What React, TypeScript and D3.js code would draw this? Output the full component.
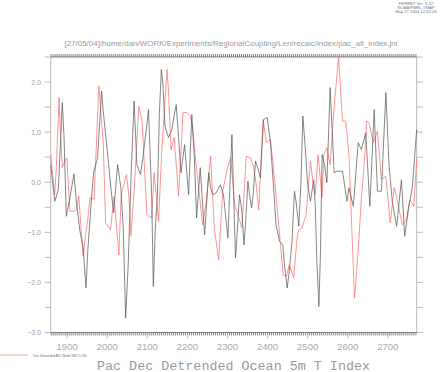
import * as d3 from 'd3';
import React, { useEffect, useRef } from 'react';

// Pacific index (black line)
const pacYears = [
  1859, 1869, 1878, 1888, 1892, 1898, 1907, 1917, 1923, 1932, 1940, 1947, 1952,
  1961, 1966, 1976, 1986, 1990, 2002, 2009, 2016, 2026, 2034, 2040, 2046, 2052,
  2060, 2067, 2074, 2083, 2089, 2095, 2103, 2111, 2115, 2120, 2125, 2130, 2135,
  2139, 2144, 2153, 2161, 2172, 2178, 2184, 2193, 2203, 2211, 2217, 2223, 2232,
  2243, 2253, 2258, 2263, 2272, 2282, 2290, 2301, 2311, 2320, 2324, 2330, 2336,
  2341, 2345, 2351, 2355, 2360, 2364, 2370, 2378, 2382, 2390, 2399, 2407, 2415,
  2421, 2430, 2438, 2443, 2449, 2454, 2461, 2467, 2471, 2478, 2483, 2488, 2494,
  2500, 2507, 2515, 2519, 2523, 2528, 2532, 2536, 2542, 2548, 2556, 2562, 2566,
  2574, 2587, 2598, 2603, 2614, 2626, 2634, 2645, 2655, 2666, 2674, 2684, 2695,
  2703, 2711, 2722, 2734, 2742, 2753, 2761, 2772,
];
const pacValues = [
  0.35, -0.38, -0.15, 1.59, 0.95, -0.68, -0.31, 0.17, -0.38, -0.98, -1.31, -2.11, -1.31,
  -0.31, 0.19, 0.49, 1.82, 1.42, 0.49, -0.11, -0.61, 0.35, -0.11, -0.91, -2.71, -1.71,
  0.22, 1.62, 0.35, 0.15, 0.49, 0.89, 1.45, -0.31, -2.08, -0.91, -0.31, 1.35, 2.25,
  1.95, 1.12, 0.89, 1.05, 1.55, 0.89, 0.19, 0.75, -0.25, 1.35, 0.55, -0.71, 0.29,
  -1.05, 0.19, -0.11, -0.25, -0.21, -0.05, -0.25, -1.11, 0.95, -1.51, -1.05, -0.25, -0.58,
  -1.25, -0.85, 0.02, -0.25, -0.51, -0.25, 0.42, 0.22, 0.09, 1.25, 1.29, 0.82, -0.11,
  -0.85, -1.18, -1.25, -1.71, -2.11, -1.78, -1.18, -0.18, -0.38, -0.88, -0.05, 1.32, 0.69,
  -0.05, -0.38, 0.05, -0.48, -1.58, -2.48, -1.38, 0.55, 0.35, -0.01, 1.89, 0.89, 0.19,
  0.22, 0.22, -0.38, -0.11, -0.48, 0.79, 0.65, 0.99, -0.48, 1.45, -0.18, -0.18, 1.79,
  0.35, -0.38, -0.88, 0.05, -1.08, -0.45, -0.11, 1.05,
];

// Atlantic SST index (red line)
const atlYears = [
  1859, 1869, 1873, 1878, 1880, 1883, 1888, 1894, 1899, 1907, 1917, 1923, 1929,
  1936, 1940, 1946, 1951, 1957, 1962, 1967, 1973, 1979, 1984, 1990, 1996, 2008,
  2017, 2029, 2035, 2048, 2054, 2059, 2067, 2073, 2079, 2087, 2090, 2099, 2111,
  2117, 2122, 2128, 2136, 2142, 2149, 2153, 2159, 2167, 2178, 2189, 2199, 2207,
  2213, 2219, 2230, 2238, 2247, 2258, 2267, 2278, 2288, 2300, 2308, 2318, 2326,
  2336, 2347, 2357, 2364, 2371, 2378, 2384, 2389, 2397, 2407, 2413, 2424, 2430,
  2439, 2447, 2454, 2465, 2474, 2478, 2486, 2496, 2507, 2513, 2519, 2526, 2536,
  2540, 2548, 2556, 2566, 2577, 2587, 2595, 2603, 2612, 2617, 2626, 2634, 2641,
  2647, 2653, 2664, 2674, 2684, 2695, 2706, 2716, 2724, 2736, 2745, 2755, 2765,
  2772,
];
const atlValues = [
  0.55, -0.25, 0.29, 1.29, 1.69, 1.02, 0.29, 0.42, 0.49, -0.58, -0.58, -0.55, -0.28,
  -1.05, -1.48, -1.05, -0.78, -0.31, -0.31, -0.35, 0.75, 1.92, 1.42, 0.82, -0.81, -0.95,
  -0.28, -1.45, -0.25, 0.15, -0.25, -1.08, -0.18, 0.69, 1.52, 1.22, 0.75, -0.65, -0.71,
  0.19, -0.25, -0.78, 0.62, 1.35, 2.25, 1.82, 0.65, 0.89, -0.28, 1.39, 1.39, 1.32,
  1.09, 0.55, -0.25, -0.85, -0.38, 0.52, -0.91, -1.55, -0.18, 0.29, 0.49, -0.45, -0.65,
  -0.91, 0.52, 0.49, 0.35, -0.01, -0.55, 0.49, 1.25, 0.79, 0.85, 0.42, -0.51, -1.05,
  -1.85, -1.88, -1.65, -1.91, -1.08, -0.95, -0.91, -0.65, 0.42, 0.02, -0.25, 0.55, -0.31,
  0.55, 0.69, 0.35, 1.49, 2.5, 1.22, 1.22, 0.55, -1.31, -2.31, -1.38, -0.31, 0.35,
  1.22, 1.19, 0.79, 1.02, 0.05, 0.12, -0.81, -0.11, -0.38, -0.85, -0.78, -0.35, -0.48,
  0.49,
];

const xTickYears = [1900, 2000, 2100, 2200, 2300, 2400, 2500, 2600, 2700];
const yTickValues = [-3, -2.5, -2, -1.5, -1, -0.5, 0, 0.5, 1, 1.5, 2, 2.5];
const yLabelValues = [-3, -2, -1, 0, 1, 2];

const headerLines = ['FERRET Ver. 5.22', 'NOAA/PMEL TMAP', 'May 27 2004 12:42:05'];
const pathTitle =
  '[27/05/04]/home/dan/WORK/Experiments/RegionalCoupling/Len/recalc/index/pac_atl_index.jnl';
const legendLabel = 'Dec Detrended ATL Wnds SST 0-70n';
const mainTitle = 'Pac Dec Detrended Ocean 5m T Index';

export default function App() {
  const ref = useRef(null);

  useEffect(() => {
    const width = 441,
      height = 372;
    const left = 50.7,
      right = 416.7,
      top = 57,
      bottom = 332.5;

    const svg = d3.select(ref.current);
    svg.selectAll('*').remove();
    svg.attr('width', width).attr('height', height);

    svg.append('rect').attr('width', width).attr('height', height).attr('fill', '#fff');

    const x = d3.scaleLinear().domain([1859, 2772]).range([left, right]);
    const y = d3.scaleLinear().domain([-3, 2.5]).range([bottom, top]);

    // header
    const header = svg
      .append('g')
      .attr('font-family', 'Liberation Sans, sans-serif')
      .attr('font-size', 4.2)
      .attr('fill', '#777')
      .attr('text-anchor', 'middle');
    headerLines.forEach((t, i) => {
      header.append('text').attr('x', 416).attr('y', 4.5 + i * 4).text(t);
    });

    svg
      .append('text')
      .attr('x', 231)
      .attr('y', 46)
      .attr('text-anchor', 'middle')
      .attr('font-family', 'Liberation Sans, sans-serif')
      .attr('font-size', 8)
      .attr('fill', '#9a9a9a')
      .attr('textLength', 333)
      .attr('lengthAdjust', 'spacingAndGlyphs')
      .text(pathTitle);

    // side axes
    const axisColor = '#aaa';
    svg
      .append('line')
      .attr('x1', left).attr('x2', left).attr('y1', top).attr('y2', bottom)
      .attr('stroke', axisColor).attr('stroke-width', 0.8);
    svg
      .append('line')
      .attr('x1', right).attr('x2', right).attr('y1', top).attr('y2', bottom)
      .attr('stroke', axisColor).attr('stroke-width', 0.8);

    svg
      .append('g')
      .selectAll('line')
      .data(yTickValues)
      .join('line')
      .attr('x1', left - 6)
      .attr('x2', left)
      .attr('y1', (d) => y(d))
      .attr('y2', (d) => y(d))
      .attr('stroke', axisColor)
      .attr('stroke-width', 0.8);
    svg
      .append('g')
      .selectAll('line')
      .data(yTickValues)
      .join('line')
      .attr('x1', right)
      .attr('x2', right + 6)
      .attr('y1', (d) => y(d))
      .attr('y2', (d) => y(d))
      .attr('stroke', axisColor)
      .attr('stroke-width', 0.8);

    svg
      .append('g')
      .selectAll('text')
      .data(yLabelValues)
      .join('text')
      .attr('x', 41)
      .attr('y', (d) => y(d) + 2.5)
      .attr('text-anchor', 'end')
      .attr('font-family', 'Liberation Sans, sans-serif')
      .attr('font-size', 7)
      .attr('fill', '#999')
      .text((d) => (d < 0 ? '\u2212' + Math.abs(d).toFixed(1) : d.toFixed(1)));

    // top / bottom dense ticks
    const minor = d3.range(1860, 2772, 5);
    const tickColor = '#666';
    svg
      .append('g')
      .selectAll('line')
      .data(minor)
      .join('line')
      .attr('x1', (d) => x(d))
      .attr('x2', (d) => x(d))
      .attr('y1', bottom)
      .attr('y2', bottom + 3)
      .attr('stroke', tickColor)
      .attr('stroke-width', 0.8);
    svg
      .append('g')
      .selectAll('line')
      .data(minor)
      .join('line')
      .attr('x1', (d) => x(d))
      .attr('x2', (d) => x(d))
      .attr('y1', top)
      .attr('y2', top - 3)
      .attr('stroke', tickColor)
      .attr('stroke-width', 0.8);
    svg
      .append('line')
      .attr('x1', left).attr('x2', right).attr('y1', bottom).attr('y2', bottom)
      .attr('stroke', tickColor).attr('stroke-width', 0.8);
    svg
      .append('line')
      .attr('x1', left).attr('x2', right).attr('y1', top).attr('y2', top)
      .attr('stroke', tickColor).attr('stroke-width', 0.8);
    svg
      .append('g')
      .selectAll('line')
      .data(xTickYears)
      .join('line')
      .attr('x1', (d) => x(d))
      .attr('x2', (d) => x(d))
      .attr('y1', bottom)
      .attr('y2', bottom + 6)
      .attr('stroke', axisColor)
      .attr('stroke-width', 0.7);

    svg
      .append('g')
      .selectAll('text')
      .data(xTickYears)
      .join('text')
      .attr('x', (d) => x(d))
      .attr('y', 349.5)
      .attr('text-anchor', 'middle')
      .attr('font-family', 'Liberation Sans, sans-serif')
      .attr('font-size', 9.5)
      .attr('fill', '#aaa')
      .text((d) => d);

    // series
    const line = d3
      .line()
      .x((d) => x(d[0]))
      .y((d) => y(d[1]));
    const pacData = pacYears.map((yr, i) => [yr, pacValues[i]]);
    const atlData = atlYears.map((yr, i) => [yr, atlValues[i]]);

    svg
      .append('path')
      .datum(atlData)
      .attr('d', line)
      .attr('fill', 'none')
      .attr('stroke', '#ff6f6f')
      .attr('stroke-width', 0.75);
    svg
      .append('path')
      .datum(pacData)
      .attr('d', line)
      .attr('fill', 'none')
      .attr('stroke', '#5e5e5e')
      .attr('stroke-width', 0.75);

    // legend
    svg
      .append('line')
      .attr('x1', 0).attr('x2', 28).attr('y1', 355).attr('y2', 355)
      .attr('stroke', '#ff7f7f').attr('stroke-width', 0.8);
    svg
      .append('text')
      .attr('x', 33)
      .attr('y', 356.5)
      .attr('font-family', 'Liberation Sans, sans-serif')
      .attr('font-size', 3.6)
      .attr('fill', '#777')
      .attr('textLength', 54)
      .text(legendLabel);

    svg
      .append('text')
      .attr('x', 233.5)
      .attr('y', 369.5)
      .attr('text-anchor', 'middle')
      .attr('font-family', 'Liberation Mono, monospace')
      .attr('font-size', 12.5)
      .attr('fill', '#999')
      .attr('textLength', 273)
      .attr('lengthAdjust', 'spacingAndGlyphs')
      .text(mainTitle);
  }, []);

  return (
    <div style={{ position: 'absolute', left: 0, top: 0 }}>
      <svg ref={ref} style={{ display: 'block' }} />
    </div>
  );
}
